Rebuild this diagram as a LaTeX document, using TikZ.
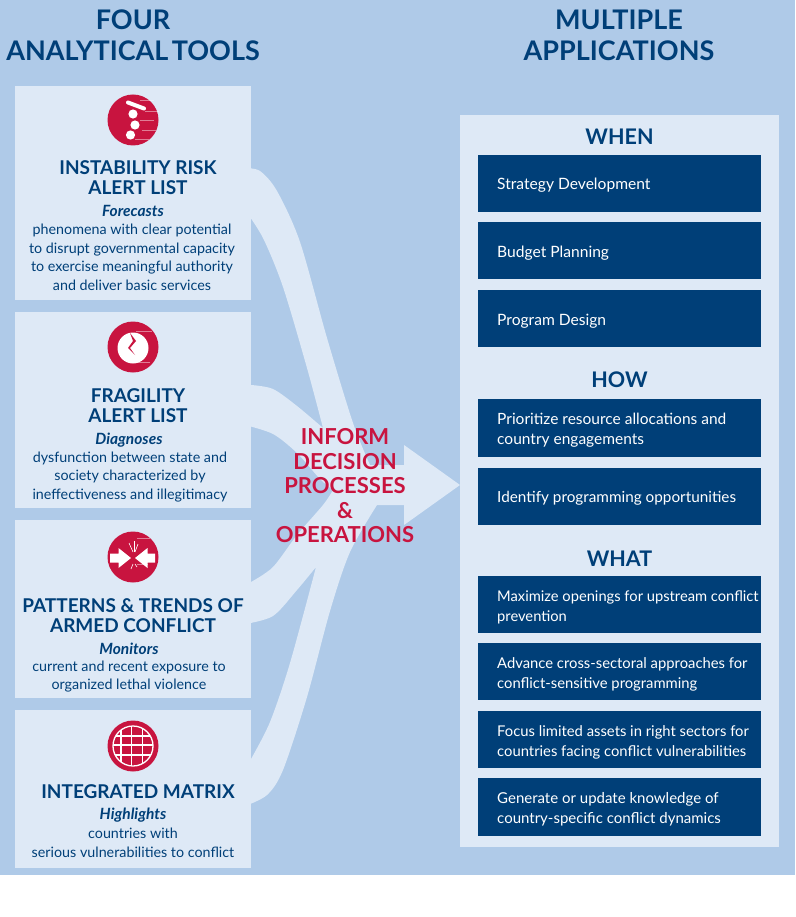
\documentclass[tikz,border=0pt]{standalone}
\usepackage{fontspec}
\setmainfont{Lato}
\definecolor{bgblue}{HTML}{AFCAE8}
\definecolor{pale}{HTML}{DEE9F6}
\definecolor{navy}{HTML}{003F78}
\definecolor{crim}{HTML}{C8143F}
\newcommand{\fs}[2]{\fontsize{#1}{#2}\selectfont}
\tikzset{
  panel/.style={fill=pale,draw=none},
  bluebox/.style={fill=navy,draw=none},
  flow/.style={fill=pale,draw=none},
  headtxt/.style={text=navy,align=center,font=\bfseries\fs{27}{31},inner sep=0pt},
  sectxt/.style={text=navy,align=center,font=\bfseries\fs{21.5}{28},inner sep=0pt},
  tooltitle/.style={text=navy,align=center,font=\bfseries\fs{19}{20.5},inner sep=0pt},
  toolverb/.style={text=navy,align=center,font=\bfseries\itshape\fs{15.5}{18},inner sep=0pt},
  toolbody/.style={text=navy,align=center,font=\fs{14.3}{18.7},inner sep=0pt},
  boxtxt/.style={text=white,align=left,anchor=west,inner sep=0pt},
  midtxt/.style={text=crim,align=center,font=\bfseries\fs{22}{24.5},inner sep=0pt},
  disc/.style={fill=crim,draw=none},
  hair/.style={draw=white,opacity=.45,line width=.4pt},
}
\begin{document}
\begin{tikzpicture}[x=1pt,y=-1pt]
\useasboundingbox (0,0) rectangle (795,917);
\fill[white] (0,0) rectangle (795,917);
\fill[bgblue] (0,0) rectangle (795,875);

% flows
\fill[flow] plot[smooth,tension=.5] coordinates {(245,168) (260,171) (277,191) (300,242) (327,338) (353,423) (370,465)}
  -- (404,465) -- (404,445) -- (460,485) -- (404,525) -- (404,505) -- (377,505)
  -- plot[smooth,tension=.5] coordinates {(377,505) (350,552) (330,611) (307,697) (283,770) (267,795) (245,806)}
  -- (245,759) -- plot[smooth,tension=.5] coordinates {(251,759) (270,722) (290,663) (316,567)}
  -- plot[smooth,tension=.5] coordinates {(316,567) (297,590) (273,616) (245,624)}
  -- (245,583) -- plot[smooth,tension=.5] coordinates {(251,582) (273,567) (297,535) (323,505) (333,490)}
  -- plot[smooth,tension=.5] coordinates {(333,490) (320,479) (297,453) (273,434) (245,425)}
  -- (245,385) -- plot[smooth,tension=.5] coordinates {(251,385) (273,389) (297,406) (323,428)}
  -- plot[smooth,tension=.5] coordinates {(323,428) (307,368) (283,287) (263,238) (245,210)} -- cycle;

% left panels
\fill[panel] (15,86) rectangle (251,300);
\fill[panel] (15,312) rectangle (251,508);
\fill[panel] (15,520) rectangle (251,698);
\fill[panel] (15,710) rectangle (251,868);
% right panel
\fill[panel] (460,115) rectangle (779,847);
\foreach \a/\b in {155/212,222/279,290/347,399/457,468/525,576/633,643/700,711/768,778/836}
  \fill[bluebox] (478,\a) rectangle (761,\b);

% headings
\node[headtxt] (h1) at (133,35) {FOUR\\ANALYTICAL\hspace{-.12em} TOOLS};
\node[headtxt] (h2) at (619,35) {MULTIPLE\\APPLICATIONS};

% icon 1
\fill[disc] (133,120) circle (25.5);
\draw[white,line width=4pt,line cap=round] (128,102.5) -- (144,108.5);
\foreach \p/\q in {133/114,135/125,130.5/135} \fill[white] (\p,\q) circle (4.6);
\foreach \q/\p in {100/140,111/145,120/140,130/142,139/135}
  \draw[hair] (\p,\q) -- ({\p+14},\q);

% icon 2
\fill[disc] (133,347) circle (25.5);
\fill[white] (133,348) circle (15.5);
\fill[crim] (130,333) -- (136,341) -- (130,348) -- (135,355) -- (128,348) -- (133,341) -- cycle;
\draw[hair] (136,331) -- (152,331);
\draw[hair] (133,362) -- (150,362);

% icon 3
\fill[disc] (133,557) circle (25.5);
\fill[white] (110,553.5) -- (118.5,553.5) -- (118.5,548) -- (131,558) -- (118.5,568) -- (118.5,562.5) -- (110,562.5) -- cycle;
\fill[white] (155,553.5) -- (147.5,553.5) -- (147.5,548) -- (135,558) -- (147.5,568) -- (147.5,562.5) -- (155,562.5) -- cycle;
\foreach \ax/\ay/\bx/\by in {133/552/129/543,134/552/134/541,135/552/138/544,133/564/131/569,135/564/137/567}
  \draw[white,line width=.6pt] (\ax,\ay) -- (\bx,\by);
\draw[hair] (137,538) -- (150,538);
\draw[hair] (137,564) -- (148,564);

% icon 4
\fill[disc] (133,746) circle (25.5);
\begin{scope}
  \clip (133,746) circle (20);
  \foreach \v in {121,131.5,142.5} \draw[white,line width=1.5pt] (\v,720) -- (\v,770);
  \foreach \h in {736,745,755} \draw[white,line width=1.5pt] (105,\h) -- (160,\h);
\end{scope}
\draw[white,line width=1.3pt] (133,746) circle (20);

% tool texts
\node[tooltitle] (t1) at (138,177.7) {INSTABILITY RISK\\ALERT LIST};
\node[toolverb] (v1) at (133,211) {Forecasts};
\node[toolbody] (b1) at (132,257.3) {phenomena with clear potential\\to disrupt governmental capacity\\to exercise meaningful authority\\and deliver basic services};

\node[tooltitle] (t2) at (138,405.7) {FRAGILITY\\ALERT LIST};
\node[toolverb] (v2) at (129,440) {Diagnoses};
\node[toolbody] (b2) at (130,477) {dysfunction between state and\\society characterized by\\ineffectiveness and illegitimacy};

\node[tooltitle] (t3) at (133,615.7) {PATTERNS \& TRENDS OF\\ARMED CONFLICT};
\node[toolverb] (v3) at (129,649) {Monitors};
\node[toolbody] (b3) at (129,676.5) {current and recent exposure to\\organized lethal violence};

\node[tooltitle] (t4) at (138,791.7) {INTEGRATED MATRIX};
\node[toolverb] (v4) at (133,815) {Highlights};
\node[toolbody] (b4) at (133,842.5) {countries with\\serious vulnerabilities to conflict};

% middle
\node[midtxt] (mid) at (345,486) {INFORM\\DECISION\\PROCESSES\\\&\\OPERATIONS};

% section heads
\node[sectxt] (s1) at (619.5,137) {WHEN};
\node[sectxt] (s2) at (619.5,380) {HOW};
\node[sectxt] (s3) at (619.5,559) {WHAT};

% box labels
\node[boxtxt,font=\fs{15.6}{20}] (r1) at (497,185) {Strategy Development};
\node[boxtxt,font=\fs{15.6}{20}] (r2) at (497,253) {Budget Planning};
\node[boxtxt,font=\fs{15.6}{20}] (r3) at (497,321) {Program Design};
\node[boxtxt,font=\fs{15.5}{20}] (r4) at (497,430) {Prioritize resource allocations and\\country engagements};
\node[boxtxt,font=\fs{15.3}{20}] (r5) at (497,498) {Identify programming opportunities};
\node[boxtxt,font=\fs{14.7}{20}] (r6) at (497,607) {Maximize openings for upstream conflict\\prevention};
\node[boxtxt,font=\fs{14.8}{20}] (r7) at (497,674) {Advance cross-sectoral approaches for\\conflict-sensitive programming};
\node[boxtxt,font=\fs{14.8}{20}] (r8) at (497,742) {Focus limited assets in right sectors for\\countries facing conflict vulnerabilities};
\node[boxtxt,font=\fs{15}{20}] (r9) at (497,809) {Generate or update knowledge of\\country-specific conflict dynamics};
\end{tikzpicture}
\end{document}
